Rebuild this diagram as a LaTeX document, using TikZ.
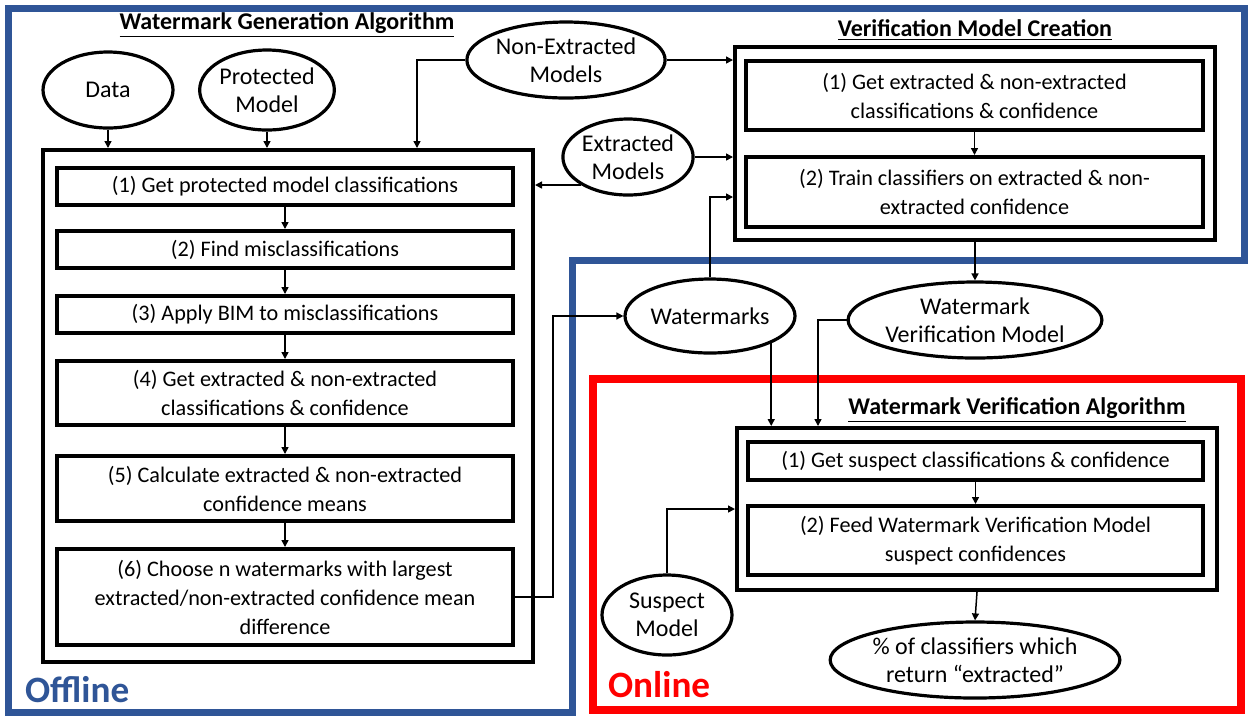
\documentclass[tikz,border=0pt]{standalone}
\usepackage{fontspec}
\setmainfont{Carlito}
\usepackage{xcolor}
\usepackage{tikz}
\usetikzlibrary{shapes.geometric, arrows.meta, positioning, calc}
\definecolor{offblue}{HTML}{2F5597}
\definecolor{onred}{HTML}{FF0000}
\tikzset{
  stepbox/.style={rectangle, draw, line width=2pt, align=center, inner sep=0pt,
                  font=\fontsize{11.1}{14.5}\selectfont},
  groupbox/.style={rectangle, draw, line width=2pt, inner sep=0pt},
  datanode/.style={ellipse, draw, line width=1.6pt, align=center, inner sep=0pt,
                   font=\fontsize{12}{14}\selectfont},
  boxtitle/.style={font=\fontsize{12}{14}\selectfont\bfseries},
  zonelabel/.style={font=\fontsize{18.6}{22}\selectfont\bfseries, anchor=west},
}

\begin{document}
\begin{tikzpicture}[
  x=0.5pt, y=-0.5pt,
  arrow/.style={-{Triangle[length=3.5pt, width=3.5pt]}, line width=0.75pt}
]
  \fill[white] (0,0) rectangle (1251,720);
  \useasboundingbox (0,0) rectangle (1251,720);

  % zones
  \draw[offblue, line width=3.5pt] (8,8) -- (1244,8) -- (1244,260) -- (572,260)
       -- (572,712) -- (8,712) -- cycle;
  \draw[onred, line width=4pt] (593,379) rectangle (1241,710);
  \node[zonelabel, text=offblue] (offline) at (18,690) {Offline};
  \node[zonelabel, text=onred] (online) at (601,685) {Online};

  % watermark generation
  \node[boxtitle] (gentitle) at (287,25) {\underline{Watermark Generation Algorithm}};
  \node[groupbox, minimum width=245pt, minimum height=256pt] (gen) at (288,406) {};
  \node[stepbox, minimum width=228pt, minimum height=18.5pt] (s1) at (285,186.5)
       {(1) Get protected model classifications};
  \node[stepbox, minimum width=228pt, minimum height=18.5pt] (s2) at (285,249.5)
       {(2) Find misclassifications};
  \node[stepbox, minimum width=228pt, minimum height=18.5pt] (s3) at (285,314.5)
       {(3) Apply BIM to misclassifications};
  \node[stepbox, minimum width=228pt, minimum height=32pt] (s4) at (285,393)
       {(4) Get extracted \& non-extracted\\classifications \& confidence};
  \node[stepbox, minimum width=228pt, minimum height=32.5pt] (s5) at (285,488.5)
       {(5) Calculate extracted \& non-extracted\\confidence means};
  \node[stepbox, minimum width=228pt, minimum height=48pt] (s6) at (285,597)
       {(6) Choose n watermarks with largest\\extracted/non-extracted confidence mean\\difference};

  \node[datanode, minimum width=65pt, minimum height=38pt] (data) at (108,90) {Data};
  \node[datanode, minimum width=65pt, minimum height=40pt] (prot) at (267,90) {Protected\\Model};
  \node[datanode, minimum width=88pt, minimum height=38pt] (nonext) at (566,60) {Non-Extracted\\Models};
  \node[datanode, minimum width=63pt, minimum height=38pt] (ext) at (628,157) {Extracted\\Models};
  \node[datanode, minimum width=85pt, minimum height=37pt] (wm) at (710,316) {Watermarks};

  % verification model creation
  \node[boxtitle] (vertitle) at (975,30) {\underline{Verification Model Creation}};
  \node[groupbox, minimum width=240pt, minimum height=96.5pt] (verif) at (975,143.5) {};
  \node[stepbox, minimum width=228.5pt, minimum height=34.5pt] (vc1) at (974.5,95.5)
       {(1) Get extracted \& non-extracted\\classifications \& confidence};
  \node[stepbox, minimum width=228.5pt, minimum height=35pt] (vc2) at (974.5,192)
       {(2) Train classifiers on extracted \& non-\\extracted confidence};
  \node[datanode, minimum width=125pt, minimum height=38pt] (wvm) at (975,320)
       {Watermark\\Verification Model};

  % watermark verification algorithm
  \node[boxtitle] (algtitle) at (1017,410) {\underline{Watermark Verification Algorithm}};
  \node[groupbox, minimum width=240pt, minimum height=81pt] (alg) at (977,509) {};
  \node[stepbox, minimum width=227.5pt, minimum height=19pt] (va1) at (975.5,461)
       {(1) Get suspect classifications \& confidence};
  \node[stepbox, minimum width=227.5pt, minimum height=34.5pt] (va2) at (975.5,540.5)
       {(2) Feed Watermark Verification Model\\suspect confidences};
  \node[datanode, minimum width=65pt, minimum height=40pt] (sus) at (667,615) {Suspect\\Model};
  \node[datanode, minimum width=140pt, minimum height=38pt] (res) at (975,660)
       {\% of classifiers which\\return ``extracted''};

  % connectors
  \draw[arrow] (data.south) -- (data.south |- gen.north);
  \draw[arrow] (prot.south) -- (prot.south |- gen.north);
  \draw[arrow] (nonext.west) -| ([xshift=188pt]gen.north west);
  \draw[arrow] (nonext.east) -- (nonext.east -| verif.west);
  \draw[arrow] (ext.south west) -- (ext.south west -| gen.east);
  \draw[arrow] (ext.east) -- (ext.east -| verif.west);
  \draw[arrow] (s1) -- (s2);
  \draw[arrow] (s2) -- (s3);
  \draw[arrow] (s3) -- (s4);
  \draw[arrow] (s4) -- (s5);
  \draw[arrow] (s5) -- (s6);
  \draw[arrow] (s6.east) -- ++(19pt,0) |- (wm.west);
  \draw[arrow] (vc1) -- (vc2);
  \draw[arrow] (wm.north) |- ([yshift=-2.5pt]vc2.west -| verif.west);
  \draw[arrow] (verif.south) -- (wvm.north);
  \draw[arrow] (wm.south east) -- (wm.south east |- alg.north);
  \draw[arrow] (wvm.west) -| ([xshift=41.5pt]alg.north west);
  \draw[arrow] (va1) -- (va2);
  \draw[arrow] (sus.north) |- (alg.west);
  \draw[arrow] (alg.south) -- (res.north);
\end{tikzpicture}
\end{document}
